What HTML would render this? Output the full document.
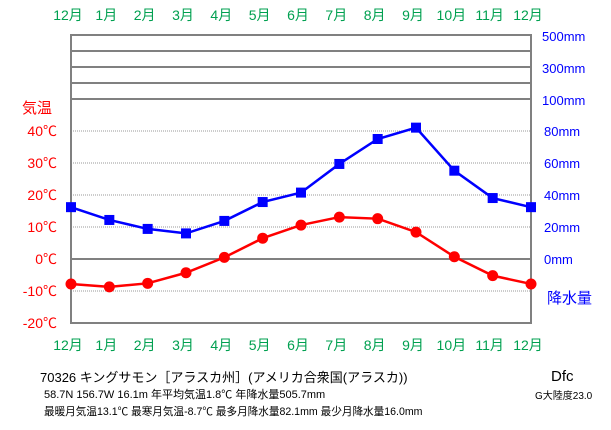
<!DOCTYPE html>
<html><head><meta charset="utf-8"><style>
body{margin:0;background:#fff;}
svg text{font-family:"Liberation Sans","Noto Sans CJK JP",sans-serif;}
</style></head><body>
<svg id="c" width="611" height="425" xmlns="http://www.w3.org/2000/svg">
<rect width="611" height="425" fill="#fff"/>
<g id="grid"></g>
<g id="labels"></g>
<g id="series"></g>
<g font-size="13" fill="#000">
<text x="40" y="382" font-size="13">70326  キングサモン［アラスカ州］(アメリカ合衆国(アラスカ))</text>
<text x="44" y="398" font-size="11">58.7N  156.7W  16.1m  年平均気温1.8℃  年降水量505.7mm</text>
<text x="44" y="415" font-size="10.6">最暖月気温13.1℃ 最寒月気温-8.7℃ 最多月降水量82.1mm 最少月降水量16.0mm</text>
<text x="551" y="381" font-size="15">Dfc</text>
<text x="535" y="399" font-size="10">G大陸度23.0</text>
</g>
</svg>
<script>
const months=["12月","1月","2月","3月","4月","5月","6月","7月","8月","9月","10月","11月","12月"];
const temps=[-7.8,-8.7,-7.6,-4.3,0.5,6.5,10.6,13.1,12.6,8.4,0.7,-5.2,-7.8];
const precip=[32.4,24.4,18.8,16.0,23.8,35.6,41.5,59.4,75.0,82.1,55.2,38.1,32.4];
const tempTicks=[40,30,20,10,0,-10,-20];
const precipTicks=[80,60,40,20,0];
const highPrecipTicks=["500mm","300mm","100mm"];
const NS="http://www.w3.org/2000/svg";
const L=71,R=531,Z=259;
const xs=i=>L+i*(R-L)/(months.length-1);
const yT=t=>Z-t*3.2;
const yP=p=>Z-p*1.6;
function mk(tag,attrs,parent,text){const e=document.createElementNS(NS,tag);for(const k in attrs)e.setAttribute(k,attrs[k]);if(text!==undefined)e.textContent=text;parent.appendChild(e);return e;}
const g=document.getElementById('grid'),lb=document.getElementById('labels'),s=document.getElementById('series');
[35,51,67,83,99].forEach(y=>{const l=mk('line',{x1:L,x2:R,y1:y,y2:y,stroke:'#808080','stroke-width':2},g);

});
tempTicks.forEach(t=>{const y=yT(t);
if(t!==0&&t!==-20){const l=mk('line',{x1:L,x2:R,y1:y,y2:y,stroke:'#999','stroke-width':1,'stroke-dasharray':'1,1'},g);

}
const tx=mk('text',{x:57,y:y+5,'text-anchor':'end','font-size':14,fill:'#f00'},lb,t+'℃');

});
const zl=mk('line',{x1:L,x2:R,y1:Z,y2:Z,stroke:'#808080','stroke-width':2},g);


const fr=mk('rect',{x:L,y:35,width:R-L,height:288,fill:'none',stroke:'#808080','stroke-width':2},g);


const tt=mk('text',{x:22,y:113,'font-size':15,fill:'#f00'},lb,'気温');


highPrecipTicks.forEach((t,i)=>{const tx=mk('text',{x:542,y:41+i*32,'font-size':13,fill:'#00f'},lb,t);

});
precipTicks.forEach(p=>{const tx=mk('text',{x:544,y:yP(p)+5,'font-size':13,fill:'#00f'},lb,p+'mm');

});
const pt=mk('text',{x:547,y:303,'font-size':15,fill:'#00f'},lb,'降水量');


months.forEach((m,i)=>{[20,350].forEach(y=>{const tx=mk('text',{x:xs(i)-3,y:y,'text-anchor':'middle','font-size':14,fill:'#00a050'},lb,m);

});});
const pp=mk('polyline',{points:precip.map((p,i)=>xs(i)+','+yP(p)).join(' '),fill:'none',stroke:'#00f','stroke-width':2.5},s);


const tp=mk('polyline',{points:temps.map((t,i)=>xs(i)+','+yT(t)).join(' '),fill:'none',stroke:'#f00','stroke-width':2.5},s);


precip.forEach((p,i)=>{const r=mk('rect',{x:xs(i)-5,y:yP(p)-5,width:10,height:10,fill:'#00f'},s);

});
temps.forEach((t,i)=>{const c=mk('circle',{cx:xs(i),cy:yT(t),r:5.5,fill:'#f00'},s);

});
</script>
</body></html>
